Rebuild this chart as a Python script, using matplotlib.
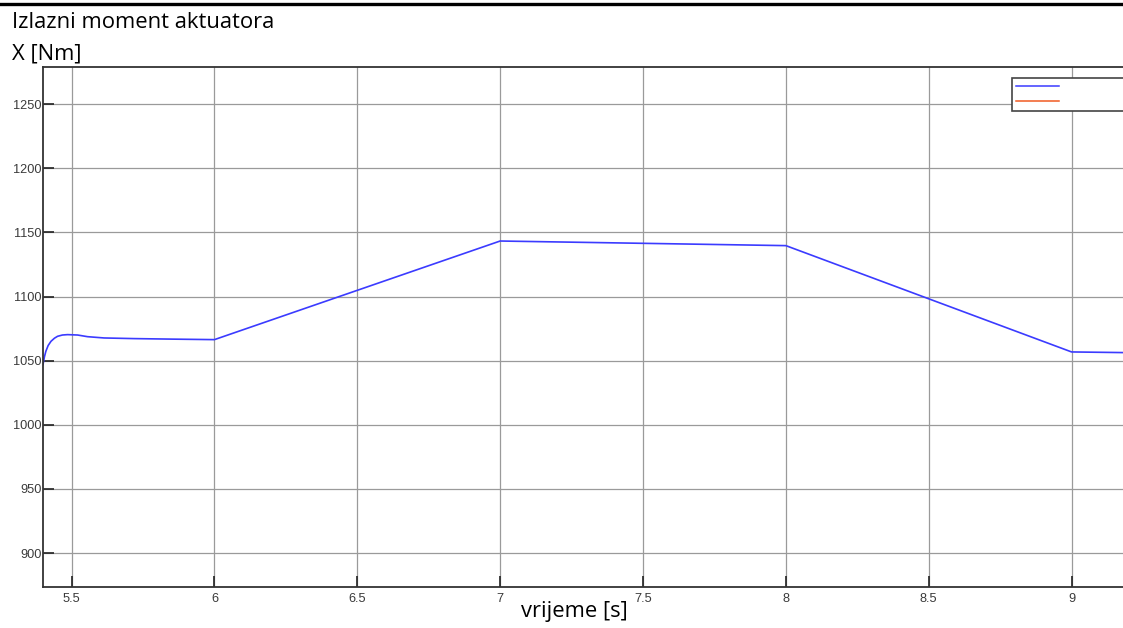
import numpy as np
import matplotlib
matplotlib.use('Agg')
import matplotlib.pyplot as plt
from matplotlib.lines import Line2D

# Actuator output torque
time_s = [5.40, 5.405, 5.41, 5.418, 5.428, 5.44, 5.451, 5.468, 5.486, 5.521, 5.556,
          5.614, 5.719, 5.85, 6.0, 7.0, 8.0, 9.0, 9.18]
torque_nm = [1046.9, 1053.0, 1057.3, 1061.8, 1065.1, 1067.5, 1069.0, 1070.0, 1070.3,
             1070.0, 1068.7, 1067.7, 1067.2, 1066.8, 1066.4, 1143.3, 1139.7, 1056.8,
             1056.3]

x_ticks = [5.5, 6, 6.5, 7, 7.5, 8, 8.5, 9]
x_tick_labels = ['5.5', '6', '6.5', '7', '7.5', '8', '8.5', '9']
y_ticks = [900, 950, 1000, 1050, 1100, 1150, 1200, 1250]

W, H = 1123, 628
fig = plt.figure(figsize=(W / 100, H / 100), dpi=100)
fig.patch.set_facecolor('white')

# document rule across the top
fig.add_artist(Line2D([0, 1], [1 - 4 / H, 1 - 4 / H], color='black', lw=2.4,
                      transform=fig.transFigure))

ax = fig.add_axes([43 / W, (H - 587) / H, (W - 43) / W, 520 / H])
ax.plot(time_s, torque_nm, color='#3b3bff', lw=1.2)

ax.set_xlim(5.40, 9.18)
ax.set_ylim(873.5, 1279)
ax.set_xticks(x_ticks)
ax.set_xticklabels(x_tick_labels)
ax.set_yticks(y_ticks)
ax.grid(True, color='#9a9a9a', lw=0.9)
ax.tick_params(direction='in', length=8, width=1.2, color='#222222',
               labelsize=9.2, labelcolor='#3a3a3a')
ax.tick_params(axis='y', pad=1)
ax.tick_params(axis='x', pad=4)
for lab in ax.get_xticklabels() + ax.get_yticklabels():
    lab.set_family('Liberation Sans')
for side in ['left', 'bottom', 'top']:
    ax.spines[side].set_color('#333333')
    ax.spines[side].set_linewidth(1.3)
ax.spines['right'].set_visible(False)

# empty legend box in the upper right, as in the scope window
handles = [Line2D([], [], color='#3b3bff', lw=1.1),
           Line2D([], [], color='#f05a22', lw=1.1)]
leg = ax.legend(handles, ['', ''], loc='upper left',
                bbox_to_anchor=(0.897, 0.979, 0.11, 0.0), mode='expand',
                borderaxespad=0, handlelength=3.9, handletextpad=0.2,
                borderpad=0.35, labelspacing=0.45, fontsize=8, fancybox=False,
                framealpha=1)
leg.get_frame().set_edgecolor('#444444')
leg.get_frame().set_linewidth(1.2)

fig.text(12 / W, 1 - 22 / H, 'Izlazni moment aktuatora', family='Open Sans',
         fontsize=15.8, va='center', ha='left')
fig.text(12 / W, 1 - 54 / H, 'X [Nm]', family='Open Sans',
         fontsize=15.8, va='center', ha='left')
fig.text(574 / W, 1 - 612 / H, 'vrijeme [s]', family='Open Sans',
         fontsize=15.8, va='center', ha='center')

fig.savefig('out.png', dpi=100)
